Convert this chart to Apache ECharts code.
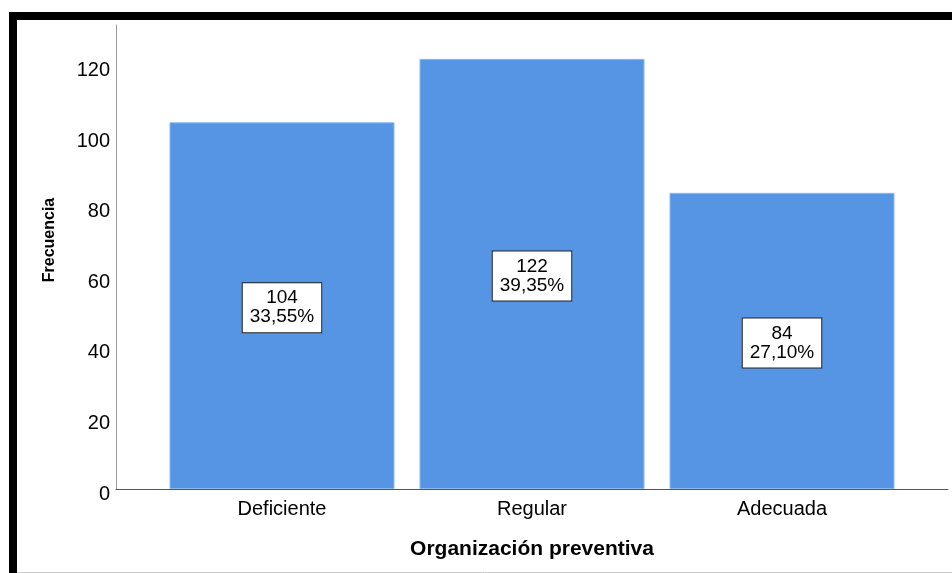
<!DOCTYPE html>
<html>
<head>
<meta charset="utf-8">
<script src="https://cdn.jsdelivr.net/npm/echarts@6/dist/echarts.min.js"></script>
<style>
  html, body { margin: 0; padding: 0; background: #ffffff; }
  #chart { width: 952px; height: 573px; }
</style>
</head>
<body>
<div id="chart"></div>
<script>
// Frequency of each level of "Organización preventiva"
const categories = ['Deficiente', 'Regular', 'Adecuada'];
const counts = [104, 122, 84];
const percents = [33.55, 39.35, 27.10];
const yTicks = [0, 20, 40, 60, 80, 100, 120];

const FONT = '"Liberation Sans", Arial, sans-serif';
const BAR_COLOR = '#5595e3';

function pct(v) {
  return v.toFixed(2).replace('.', ',') + '%';
}

const chart = echarts.init(document.getElementById('chart'), null, { renderer: 'canvas' });

chart.setOption({
  animation: false,
  backgroundColor: '#ffffff',
  grid: [
    { left: 157, right: 45, top: 25, bottom: 84 },
    { left: 116, right: 4, top: 25, bottom: 84 }
  ],
  xAxis: [
    {
      type: 'category',
      gridIndex: 0,
      data: categories,
      axisLine: { show: false },
      axisTick: { show: false },
      axisLabel: {
        margin: 10,
        fontFamily: FONT,
        fontSize: 20,
        color: '#000000'
      },
      name: 'Organización preventiva',
      nameLocation: 'middle',
      nameGap: 50,
      nameTextStyle: {
        fontFamily: FONT,
        fontSize: 21,
        fontWeight: 'bold',
        color: '#000000'
      }
    },
    {
      type: 'value',
      gridIndex: 1,
      axisLine: { show: true, lineStyle: { color: '#555555', width: 1 } },
      axisTick: { show: false },
      axisLabel: { show: false },
      splitLine: { show: false }
    }
  ],
  yAxis: [
    {
      type: 'value',
      gridIndex: 0,
      min: yTicks[0],
      max: 131.6,
      interval: 20,
      offset: 41,
      axisLine: { show: true, lineStyle: { color: '#9a9a9a', width: 1 } },
      axisTick: { show: false },
      splitLine: { show: false },
      axisLabel: {
        margin: 6,
        verticalAlign: 'top',
        lineHeight: 10,
        fontFamily: FONT,
        fontSize: 20,
        color: '#000000',
        formatter: (v) => (yTicks.indexOf(v) >= 0 ? String(v) : '')
      },
      name: 'Frecuencia',
      nameLocation: 'middle',
      nameRotate: 90,
      nameGap: 58,
      nameTextStyle: {
        fontFamily: FONT,
        fontSize: 16,
        fontWeight: 'bold',
        color: '#000000',
        padding: [0, 0, 0, 34]
      }
    },
    {
      type: 'value',
      gridIndex: 1,
      show: false
    }
  ],
  series: [
    {
      type: 'bar',
      xAxisIndex: 0,
      yAxisIndex: 0,
      data: counts,
      barWidth: 225,
      itemStyle: {
        color: BAR_COLOR,
        borderColor: '#8ab8ef',
        borderWidth: 1
      },
      label: {
        show: true,
        position: 'inside',
        offset: [0, 2],
        formatter: (p) => counts[p.dataIndex] + '\n' + pct(percents[p.dataIndex]),
        fontFamily: FONT,
        fontSize: 19,
        lineHeight: 19,
        color: '#000000',
        align: 'center',
        backgroundColor: '#ffffff',
        borderColor: '#222222',
        borderWidth: 1,
        padding: [6, 7, 5, 7]
      }
    }
  ],
  graphic: [
    // frame: heavy black top and left edges, faint bottom rule
    { type: 'rect', shape: { x: 9, y: 12, width: 943, height: 8 }, style: { fill: '#000000' }, z: 100 },
    { type: 'rect', shape: { x: 9, y: 12, width: 8, height: 561 }, style: { fill: '#000000' }, z: 100 },
    { type: 'line', shape: { x1: 17, y1: 572.5, x2: 952, y2: 572.5 }, style: { stroke: '#cccccc', lineWidth: 1 }, z: 100 }
  ]
});
</script>
</body>
</html>
